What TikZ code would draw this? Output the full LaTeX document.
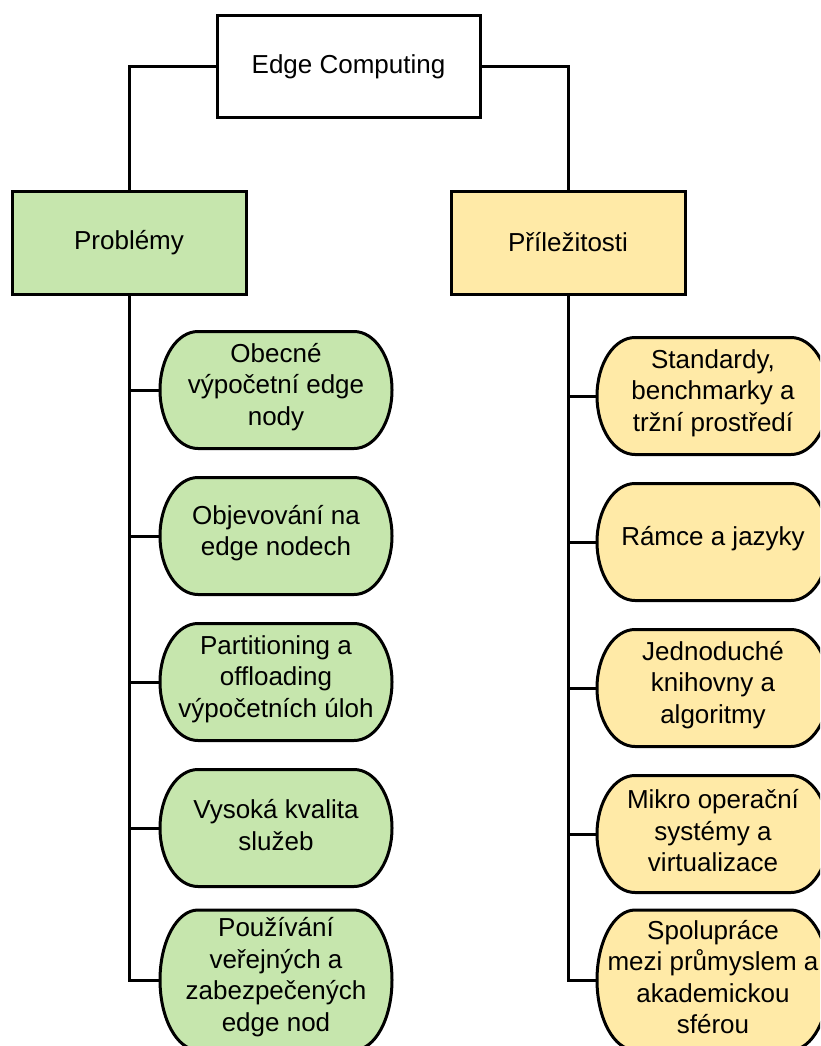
\documentclass[tikz,border=0pt]{standalone}
\usepackage{fontspec}
\setmainfont{Liberation Sans}
\begin{document}
\definecolor{probfill}{HTML}{C6E6AD}
\definecolor{prilfill}{HTML}{FFEAA7}
% pill: name, centre x, centre y, height, fill colour, text
\newcommand{\pillnode}[6]{%
  \pgfmathsetmacro\pL{#2-116}\pgfmathsetmacro\pR{#2+116}%
  \pgfmathsetmacro\pT{#3-#4/2}\pgfmathsetmacro\pB{#3+#4/2}%
  \pgfmathsetmacro\pK{0.5523*#4/2}%
  \filldraw[fill=#5,line width=3pt]
    (\pL+38,\pT) -- (\pR-38,\pT)
    .. controls (\pR-17,\pT) and (\pR,#3-\pK) .. (\pR,#3)
    .. controls (\pR,#3+\pK) and (\pR-17,\pB) .. (\pR-38,\pB)
    -- (\pL+38,\pB)
    .. controls (\pL+17,\pB) and (\pL,#3+\pK) .. (\pL,#3)
    .. controls (\pL,#3-\pK) and (\pL+17,\pT) .. cycle;
  \node[pilltext,minimum height=#4] (#1) at (#2,#3) {};%
  \node[yshift=3pt] (#1-label) at (#1.center) {#6};%
}
\begin{tikzpicture}[x=1pt,y=-1pt,
  every node/.style={font=\fontsize{26}{31.5}\selectfont,align=center,inner sep=0pt},
  box/.style={draw,line width=3pt,minimum width=#1},
  box/.default=234pt,
  pilltext/.style={minimum width=232pt},
  link/.style={line width=3pt}]
\useasboundingbox (0,0) rectangle (820,1046);
\clip (0,0) rectangle (820,1046);

% top level and the two branches
\node[box=263pt,fill=white,minimum height=102pt] (ec) at (348.5,67) {Edge Computing};
\node[box,fill=probfill,minimum height=103pt] (prob) at (129,242.5) {Problémy};
\node[box,fill=prilfill,minimum height=103pt] (pril) at (568,242.5) {Příležitosti};

% problems
\pillnode{l1}{276}{390}{117}{probfill}{Obecné\\výpočetní edge\\nody}
\pillnode{l2}{276}{536}{117}{probfill}{Objevování na\\edge nodech}
\pillnode{l3}{276}{682}{117}{probfill}{Partitioning a\\offloading\\výpočetních úloh}
\pillnode{l4}{276}{828}{117}{probfill}{Vysoká kvalita\\služeb}
\pillnode{l5}{276}{980}{140}{probfill}{Používání\\veřejných a\\zabezpečených\\edge nod}

% opportunities
\pillnode{r1}{713}{396}{117}{prilfill}{Standardy,\\benchmarky a\\tržní prostředí}
\pillnode{r2}{713}{542}{117}{prilfill}{Rámce a jazyky}
\pillnode{r3}{713}{688}{117}{prilfill}{Jednoduché\\knihovny a\\algoritmy}
\pillnode{r4}{713}{834}{117}{prilfill}{Mikro operační\\systémy a\\virtualizace}
\pillnode{r5}{713}{980}{140}{prilfill}{Spolupráce\\mezi průmyslem a\\akademickou\\sférou}

% connectors
\draw[link] (ec.west) -| (prob.north);
\draw[link] (ec.east) -| (pril.north);
\foreach \n in {l1,l2,l3,l4,l5} \draw[link] (prob.south) |- (\n.west);
\foreach \n in {r1,r2,r3,r4,r5} \draw[link] (pril.south) |- (\n.west);
\end{tikzpicture}
\end{document}
